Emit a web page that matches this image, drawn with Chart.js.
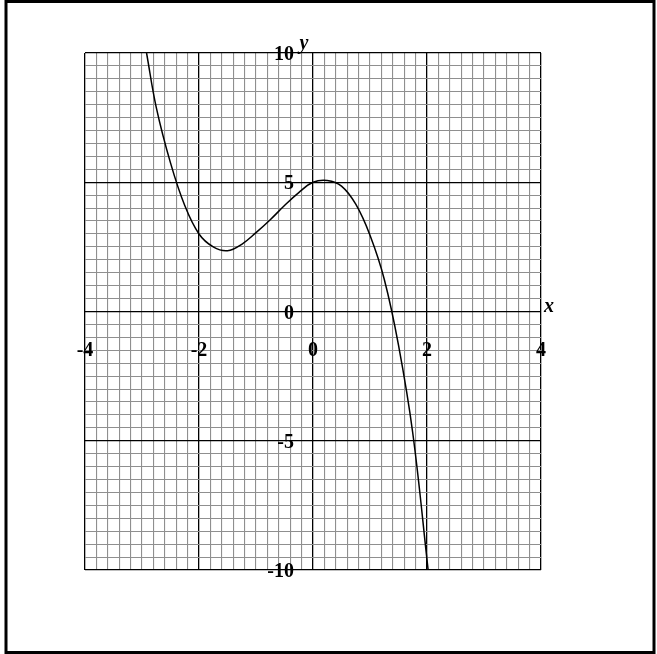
<!DOCTYPE html>
<html>
<head>
<meta charset="utf-8">
<script src="https://cdn.jsdelivr.net/npm/chart.js@4"></script>
<style>
	html, body { margin: 0; padding: 0; background: #fff; }
</style>
</head>
<body>
<canvas id="graph" width="657" height="654"></canvas>
<script>
// curve points
const xValues = [-2.92, -2.75, -2.5, -2.25, -2, -1.75, -1.5, -1.25, -1, -0.75, -0.5, -0.25, 0, 0.25, 0.5, 0.75, 1, 1.25, 1.5, 1.75, 2.02];
const yValues = [10, 7.9, 5.75, 4.1, 3.0, 2.5, 2.35, 2.6, 3.05, 3.55, 4.1, 4.6, 5.0, 5.07, 4.85, 4.15, 2.95, 1.25, -1.3, -4.7, -10];

// axis labels
const xTickValues = [-4, -2, 0, 2, 4];
const xTickLabels = ['-4', '-2', '0', '2', '4'];
const yTickValues = [10, 5, 0, -5, -10];
const yTickLabels = ['10', '5', '0', '-5', '-10'];

const points = xValues.map(function (x, i) { return { x: x, y: yValues[i] }; });

function isMajor(v, step) {
	const r = v / step;
	return Math.abs(r - Math.round(r)) < 1e-6;
}

function makeTicks(min, max, step) {
	const out = [];
	const n = Math.round((max - min) / step);
	for (let i = 0; i <= n; i++) out.push({ value: +(min + i * step).toFixed(4) });
	return out;
}

// 테두리와 눈금 글자
const labelPlugin = {
	id: 'labels',
	beforeDraw: function (chart) {
		const ctx = chart.ctx;
		ctx.save();
		ctx.fillStyle = '#fff';
		ctx.fillRect(0, 0, chart.width, chart.height);
		ctx.restore();
	},
	afterDraw: function (chart) {
		const ctx = chart.ctx;
		const xs = chart.scales.x;
		const ys = chart.scales.y;
		ctx.save();
		ctx.strokeStyle = '#000';
		ctx.lineWidth = 3;
		ctx.strokeRect(6, 1.5, 648, 651);

		ctx.fillStyle = '#000';
		ctx.font = 'bold 20px "Liberation Serif"';
		ctx.textAlign = 'center';
		ctx.textBaseline = 'middle';
		xTickValues.forEach(function (v, i) {
			ctx.fillText(xTickLabels[i], xs.getPixelForValue(v), 351);
		});
		ctx.textAlign = 'right';
		yTickValues.forEach(function (v, i) {
			ctx.fillText(yTickLabels[i], 294, ys.getPixelForValue(v) + 2);
		});

		ctx.font = 'italic bold 20px "Liberation Serif"';
		ctx.textAlign = 'center';
		ctx.fillText('x', 549, 307);
		ctx.fillText('y', 304, 44);
		ctx.restore();
	}
};

const chart = new Chart(document.getElementById('graph').getContext('2d'), {
	type: 'scatter',
	data: {
		datasets: [{
			data: points,
			showLine: true,
			borderColor: '#000',
			borderWidth: 1.5,
			pointRadius: 0,
			tension: 0.4,
			fill: false
		}]
	},
	options: {
		responsive: false,
		animation: false,
		layout: { padding: { left: 85, right: 116, top: 53, bottom: 84 } },
		plugins: { legend: { display: false }, tooltip: { enabled: false } },
		scales: {
			x: {
				type: 'linear',
				min: -4,
				max: 4,
				afterBuildTicks: function (scale) { scale.ticks = makeTicks(-4, 4, 0.2); },
				ticks: { display: false },
				border: { display: false },
				grid: {
					drawTicks: false,
					color: function (c) { return isMajor(c.tick.value, 2) ? '#000' : '#8f8f8f'; },
					lineWidth: function (c) { return isMajor(c.tick.value, 2) ? 1.3 : 1.1; }
				}
			},
			y: {
				type: 'linear',
				min: -10,
				max: 10,
				afterBuildTicks: function (scale) { scale.ticks = makeTicks(-10, 10, 0.5); },
				ticks: { display: false },
				border: { display: false },
				grid: {
					drawTicks: false,
					color: function (c) { return isMajor(c.tick.value, 5) ? '#000' : '#8f8f8f'; },
					lineWidth: function (c) { return isMajor(c.tick.value, 5) ? 1.3 : 1.1; }
				}
			}
		}
	},
	plugins: [labelPlugin]
});
</script>
</body>
</html>
